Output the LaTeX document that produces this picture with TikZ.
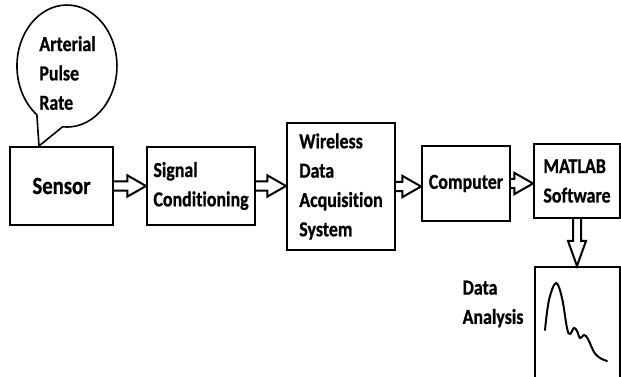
\documentclass[tikz,border=0pt]{standalone}
\usepackage{fontspec}
\setmainfont{Carlito}[FakeStretch=0.84, Ligatures=NoCommon, BoldFeatures={FakeBold=0.8}]
\usetikzlibrary{calc}

% hollow block arrows, drawn between two named nodes
\newcommand{\harrow}[2]{\draw[arrowline] let \p1=(#1), \p2=(#1 -| #2) in
  (\x1,\y1+3.4pt) -- (\x2-14pt,\y1+3.4pt) -- (\x2-14pt,\y1+8pt) -- (\x2,\y1)
  -- (\x2-14pt,\y1-8pt) -- (\x2-14pt,\y1-3.4pt) -- (\x1,\y1-3.4pt);}
\newcommand{\varrow}[2]{\draw[arrowline] let \p1=(#1), \p2=(#1 |- #2) in
  (\x1-3pt,\y1) -- (\x1-3pt,\y2+18.75pt) -- (\x1-6.75pt,\y2+18.75pt) -- (\x1,\y2)
  -- (\x1+6.75pt,\y2+18.75pt) -- (\x1+3pt,\y2+18.75pt) -- (\x1+3pt,\y1);}

\begin{document}
\begin{tikzpicture}[x=0.75pt, y=0.75pt]
\tikzstyle{block}=[rectangle, draw=black, line width=1.5pt, inner sep=0pt, align=left, font=\bfseries\fontsize{16}{22}\selectfont]
\tikzstyle{plaintext}=[inner sep=0pt, align=left, font=\bfseries\fontsize{16}{22}\selectfont]
\tikzstyle{arrowline}=[line width=1.5pt, line join=miter]

\clip (0,0) rectangle (621,377);

% processing chain
\node[block, minimum width=77.25pt, minimum height=58.5pt, font=\bfseries\fontsize{18.5}{22}\selectfont] (sens) at (61.5,191) {Sensor};
\node[block, minimum width=81pt, minimum height=58.5pt] (cond) at (201,191) {Signal\\Conditioning};
\node[block, minimum width=81pt, minimum height=95.25pt] (daq) at (341,190.5) {Wireless\\Data\\Acquisition\\System};
\node[block, minimum width=66pt, minimum height=56.25pt] (comp) at (466,193.5) {Computer};
\node[block, minimum width=64.5pt, minimum height=55.5pt] (matlab) at (577,196) {MATLAB\\Software};
\node[block, minimum width=63.75pt, minimum height=86.25pt] (anal) at (577.5,52.5) {};
\node[plaintext] (analtext) at (493,73) {Data\\Analysis};

\harrow{sens.east}{cond.west}
\harrow{cond.east}{daq.west}
\harrow{daq.east}{comp.west}
\harrow{comp.east}{matlab.west}
\varrow{matlab.south}{anal.north}

% speech bubble above the sensor
\coordinate (tip) at ([xshift=22.5pt]sens.north west);
\draw[line width=1.2pt] (tip) -- (62.6,250.2) arc[start angle=265, end angle=593, x radius=50, y radius=61] -- cycle;
\node[plaintext] (pulse) at (67.5,304) {Arterial\\Pulse\\Rate};

% pulse wave in the analysis box
\draw[line width=1.5pt, line cap=round] plot[smooth, tension=0.6] coordinates {(545,47) (549,77) (556,94) (562,79) (567,49) (570,43) (574,49) (577,46) (580,39) (584,42) (588,38) (594,25) (600,19) (607,16)};
\end{tikzpicture}
\end{document}
